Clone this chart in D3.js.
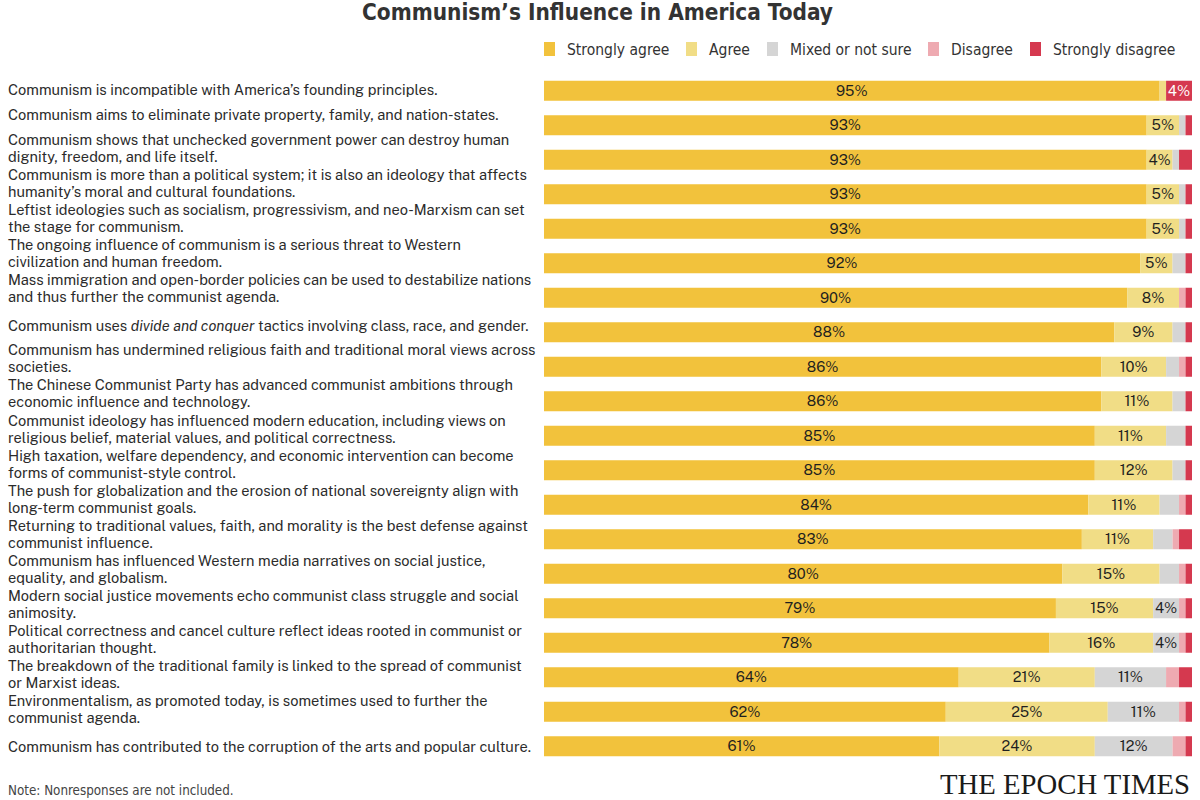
<!DOCTYPE html>
<html>
<head>
<meta charset="utf-8">
<script src="https://cdn.jsdelivr.net/npm/d3@7"></script>
<style>
  body { margin: 0; background: #fff; }
  svg { display: block; }
</style>
</head>
<body>
<svg id="chart" width="1200" height="800"></svg>
<script>
// Survey statements, one array of lines per row (|i| marks italic words)
let statements = [
    ["Communism is incompatible with America\u2019s founding principles."],
    ["Communism aims to eliminate private property, family, and nation-states."],
    ["Communism shows that unchecked government power can destroy human", "dignity, freedom, and life itself."],
    ["Communism is more than a political system; it is also an ideology that affects", "humanity\u2019s moral and cultural foundations."],
    ["Leftist ideologies such as socialism, progressivism, and neo-Marxism can set", "the stage for communism."],
    ["The ongoing influence of communism is a serious threat to Western", "civilization and human freedom."],
    ["Mass immigration and open-border policies can be used to destabilize nations", "and thus further the communist agenda."],
    ["Communism uses |divide and conquer| tactics involving class, race, and gender."],
    ["Communism has undermined religious faith and traditional moral views across", "societies."],
    ["The Chinese Communist Party has advanced communist ambitions through", "economic influence and technology."],
    ["Communist ideology has influenced modern education, including views on", "religious belief, material values, and political correctness."],
    ["High taxation, welfare dependency, and economic intervention can become", "forms of communist-style control."],
    ["The push for globalization and the erosion of national sovereignty align with", "long-term communist goals."],
    ["Returning to traditional values, faith, and morality is the best defense against", "communist influence."],
    ["Communism has influenced Western media narratives on social justice,", "equality, and globalism."],
    ["Modern social justice movements echo communist class struggle and social", "animosity."],
    ["Political correctness and cancel culture reflect ideas rooted in communist or", "authoritarian thought."],
    ["The breakdown of the traditional family is linked to the spread of communist", "or Marxist ideas."],
    ["Environmentalism, as promoted today, is sometimes used to further the", "communist agenda."],
    ["Communism has contributed to the corruption of the arts and popular culture."]
];

let responses = ["Strongly agree", "Agree", "Mixed or not sure", "Disagree", "Strongly disagree"];

// percentages per response, in statement order
let stronglyAgree    = [95, 93, 93, 93, 93, 92, 90, 88, 86, 86, 85, 85, 84, 83, 80, 79, 78, 64, 62, 61];
let agree            = [ 1,  5,  4,  5,  5,  5,  8,  9, 10, 11, 11, 12, 11, 11, 15, 15, 16, 21, 25, 24];
let mixed            = [ 0,  1,  1,  1,  1,  2,  0,  2,  2,  2,  3,  2,  3,  3,  3,  4,  4, 11, 11, 12];
let disagree         = [ 0,  0,  0,  0,  0,  0,  1,  0,  1,  0,  0,  0,  1,  1,  1,  1,  1,  2,  1,  2];
let stronglyDisagree = [ 4,  1,  2,  1,  1,  1,  1,  1,  1,  1,  1,  1,  1,  2,  1,  1,  1,  2,  1,  1];

let palette = ["#f2c23c", "#f1dd86", "#d5d5d5", "#eeaab1", "#d5394f"];

let title = "Communism\u2019s Influence in America Today";
let note = "Note: Nonresponses are not included.";

///////////////////////////////
/// Setup
///////////////////////////////

let svg = d3.select("#chart");
let labelFont = "'Public Sans', Roboto, 'Noto Sans', sans-serif";
let narrowFont = "'Liberation Sans Narrow', 'DejaVu Sans Condensed', sans-serif";

let rows = statements.map(function (s, i) {
    return {
        index: i,
        lines: s,
        values: [stronglyAgree[i], agree[i], mixed[i], disagree[i], stronglyDisagree[i]]
    };
});

let x = d3.scaleLinear().domain([0, 100]).range([544, 1192]);
let y = d3.scaleBand()
    .domain(d3.range(rows.length))
    .range([73.5, 763.5])
    .paddingInner(0.42)
    .paddingOuter(0.21);

// text blocks drift slightly against the bar grid in the original
let labelY = d3.scaleLinear().domain([2, 18]).range([148.5, 709.5]);

let colour = d3.scaleOrdinal().domain(responses).range(palette);

// Title
svg.append("text")
    .attr("x", 362)
    .attr("y", 20)
    .attr("font-family", narrowFont)
    .attr("font-weight", "bold")
    .attr("font-size", 23)
    .attr("textLength", 471)
    .attr("lengthAdjust", "spacingAndGlyphs")
    .attr("fill", "#333")
    .text(title);

// Legend
let legendX = [544, 686, 767, 928, 1030];
let legend = svg.append("g");
responses.forEach(function (r, i) {
    let g = legend.append("g").attr("transform", "translate(" + legendX[i] + ",42)");
    g.append("rect").attr("width", 11).attr("height", 14).attr("fill", colour(r));
    g.append("text")
        .attr("x", 23)
        .attr("y", 12.5)
        .attr("font-family", narrowFont)
        .attr("font-size", 15.5)
        .attr("fill", "#333")
        .text(r);
});

// Statement labels
let labels = svg.append("g");
rows.forEach(function (d) {
    let centre = y(d.index) + y.bandwidth() / 2;
    let blockCentre;
    if (d.lines.length > 1) blockCentre = labelY(d.index);
    else if (d.index === 0) blockCentre = centre - 1;
    else blockCentre = labelY(d.index) + 2;
    let lineH = 17;
    let top = blockCentre - (d.lines.length - 1) * lineH / 2;
    let t = labels.append("text")
        .attr("font-family", labelFont)
        .attr("font-size", 14.6)
        .attr("fill", "#2b2b2b");
    d.lines.forEach(function (line, li) {
        let parts = line.split("|");
        parts.forEach(function (p, pi) {
            let ts = t.append("tspan").text(p);
            if (pi === 0) ts.attr("x", 8).attr("y", top + li * lineH + 5);
            if (pi % 2 === 1) ts.attr("font-style", "italic");
        });
    });
});

// Bars
let stack = rows.map(function (d) {
    let acc = 0;
    return d.values.map(function (v, k) {
        let seg = { row: d.index, key: responses[k], k: k, value: v, x0: acc, x1: acc + v };
        acc += v;
        return seg;
    });
});
let segments = stack.flat().filter(function (s) { return s.value > 0; });

let bars = svg.append("g");
bars.selectAll("rect")
    .data(segments)
    .enter()
    .append("rect")
    .attr("x", function (s) { return x(s.x0); })
    .attr("y", function (s) { return y(s.row); })
    .attr("width", function (s) { return x(s.x1) - x(s.x0); })
    .attr("height", y.bandwidth())
    .attr("fill", function (s) { return colour(s.key); });

bars.selectAll("text")
    .data(segments.filter(function (s) { return s.value >= 4; }))
    .enter()
    .append("text")
    .attr("x", function (s) { return (x(s.x0) + x(s.x1)) / 2; })
    .attr("y", function (s) { return y(s.row) + y.bandwidth() / 2 + 5; })
    .attr("text-anchor", "middle")
    .attr("font-family", labelFont)
    .attr("font-size", 14.6)
    .attr("fill", function (s) { return s.k === 4 ? "#fff" : "#1f1f1f"; })
    .text(function (s) { return s.value + "%"; });

// Footer
svg.append("text")
    .attr("x", 8)
    .attr("y", 795)
    .attr("font-family", narrowFont)
    .attr("font-size", 13.3)
    .attr("fill", "#444")
    .text(note);

svg.append("text")
    .attr("x", 940)
    .attr("y", 794)
    .attr("font-family", "'Liberation Serif', 'DejaVu Serif', serif")
    .attr("font-size", 29)
    .attr("textLength", 250)
    .attr("lengthAdjust", "spacingAndGlyphs")
    .attr("fill", "#1a1a1a")
    .text("THE EPOCH TIMES");
</script>
</body>
</html>
